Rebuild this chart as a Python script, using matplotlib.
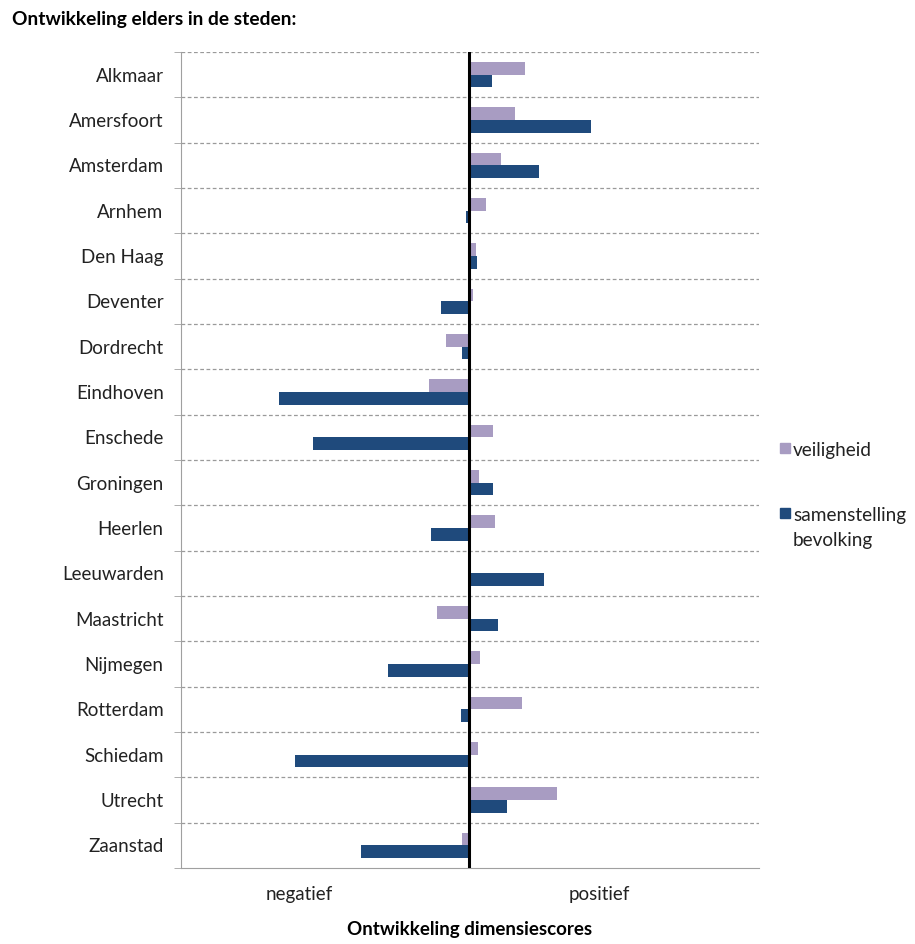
import matplotlib
matplotlib.use("Agg")
import matplotlib.pyplot as plt
import numpy as np
from matplotlib.patches import Rectangle

cities = ["Alkmaar", "Amersfoort", "Amsterdam", "Arnhem", "Den Haag", "Deventer",
          "Dordrecht", "Eindhoven", "Enschede", "Groningen", "Heerlen", "Leeuwarden",
          "Maastricht", "Nijmegen", "Rotterdam", "Schiedam", "Utrecht", "Zaanstad"]
veiligheid = [55.8, 45.4, 31.5, 16.9, 6.2, 3.5, -23.5, -40.4, 23.5, 10.0, 25.8, 0.0,
              -32.7, 10.8, 52.3, 8.5, 87.7, -7.3]
samenstelling = [22.3, 121.5, 69.6, -3.8, 7.3, -28.1, -7.3, -190.4, -156.9, 23.5, -38.5, 75.0,
                 28.1, -81.2, -8.5, -174.2, 37.3, -108.8]
series_names = ["veiligheid", "samenstelling\nbevolking"]
x_tick_labels = ["negatief", "positief"]
x_tick_pos = [-170, 130]

c_v = "#A89CC2"
c_s = "#1F4A7C"
font = ["Lato", "DejaVu Sans"]
plt.rcParams['font.family'] = font
txt = "#222222"

W, H = 915, 944
fig = plt.figure(figsize=(W / 100, H / 100), dpi=100)
ax = fig.add_axes([181/W, 1-868/H, (759-181)/W, (868-52)/H])

y = np.arange(len(cities))
h = 0.28
ax.barh(y - h/2, veiligheid, height=h, color=c_v, zorder=3)
ax.barh(y + h/2, samenstelling, height=h, color=c_s, zorder=3)

ax.set_ylim(len(cities) - 0.5, -0.5)
ax.set_xlim(-288.5, 289.6)

for k in range(len(cities)):
    ax.axhline(k - 0.5, color="#9a9a9a", lw=0.9, ls=(0, (3, 2)), zorder=1)
ax.axvline(0, color="black", lw=2.2, zorder=4)

for s in ["top", "right"]:
    ax.spines[s].set_visible(False)
ax.spines["left"].set_color("#a0a0a0")
ax.spines["bottom"].set_color("#a0a0a0")

ax.set_yticks(y)
ax.set_yticklabels(cities, fontsize=13.5, color=txt)
ax.tick_params(axis="y", length=0, pad=12.5)
ax.set_yticks(np.arange(len(cities) + 1) - 0.5, minor=True)
ax.tick_params(axis="y", which="minor", length=5, color="#a0a0a0")

ax.set_xticks(x_tick_pos)
ax.set_xticklabels(x_tick_labels, fontsize=13.5, color=txt)
ax.tick_params(axis="x", length=0, pad=13)

ax.set_xlabel("Ontwikkeling dimensiescores", fontsize=13.5, fontweight="bold",
              labelpad=13, color="black")

fig.text(12/W, 1-19/H, "Ontwikkeling elders in de steden:", fontsize=13.8,
         fontweight="bold", va="center", ha="left", color="black")

# legend (drawn manually so the marker sits on the first text line)
legend_items = [(series_names[0], c_v, 448), (series_names[1], c_s, 513)]
sq = 10
for label, col, yc in legend_items:
    fig.patches.append(Rectangle((780/W, 1-(yc+sq/2)/H), sq/W, sq/H, color=col,
                                 transform=fig.transFigure, figure=fig))
    fig.text(793/W, 1-(yc-6)/H, label, fontsize=13.7, color=txt, va="top", ha="left",
             linespacing=1.6)

fig.savefig("out.png", dpi=100)
